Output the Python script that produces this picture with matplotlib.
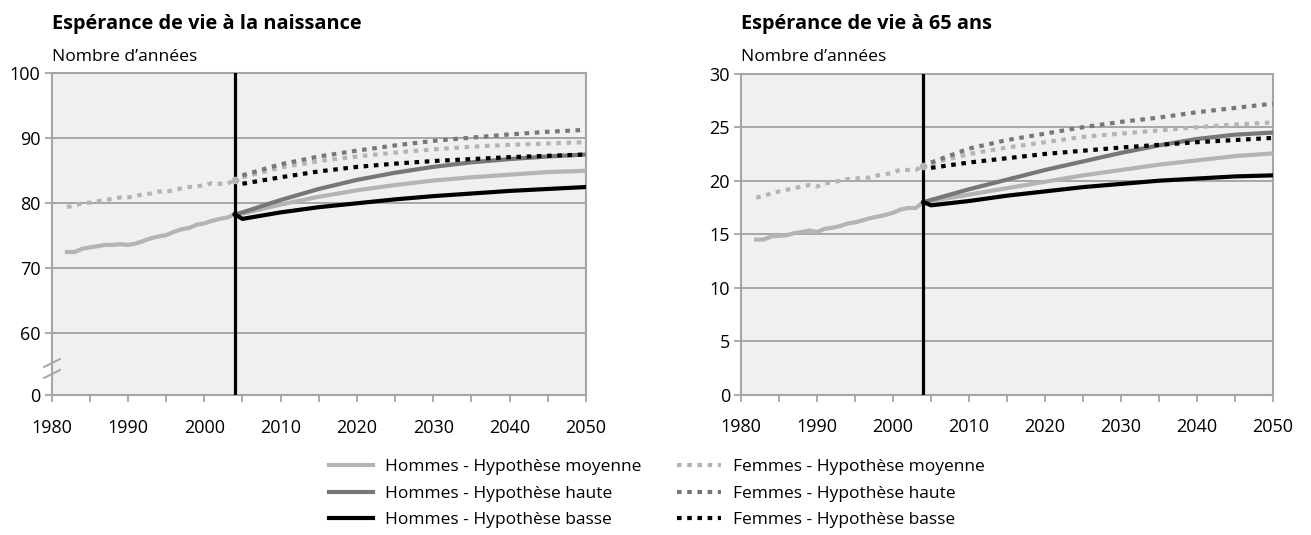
import matplotlib
matplotlib.use("Agg")
import matplotlib.pyplot as plt
from matplotlib.ticker import MultipleLocator
from matplotlib.lines import Line2D

plt.rcParams['font.family'] = ['Open Sans', 'DejaVu Sans']

# ---------------- data ----------------
hist_years = list(range(1982, 2005))
proj_years = [2004, 2005, 2010, 2015, 2020, 2025, 2030, 2035, 2040, 2045, 2050]

# Life expectancy at birth - observed
birth_men_obs = [72.5, 72.5, 73.0, 73.2, 73.4, 73.6, 73.6, 73.7, 73.6, 73.8, 74.2, 74.6,
                 74.9, 75.1, 75.6, 76.0, 76.2, 76.7, 76.9, 77.3, 77.6, 77.8, 78.3]
birth_women_obs = [79.4, 79.7, 80.0, 80.1, 80.3, 80.5, 80.7, 80.9, 80.9, 81.1, 81.4, 81.5,
                   81.8, 81.8, 82.0, 82.3, 82.5, 82.6, 82.8, 83.1, 83.0, 83.0, 83.6]
# Life expectancy at birth - projections
birth_men_moy = [78.3, 78.4, 79.8, 81.0, 82.0, 82.8, 83.5, 84.0, 84.4, 84.8, 85.0]
birth_men_haute = [78.3, 78.6, 80.5, 82.2, 83.6, 84.7, 85.6, 86.3, 86.8, 87.2, 87.5]
birth_men_basse = [78.3, 77.6, 78.6, 79.4, 80.0, 80.6, 81.1, 81.5, 81.9, 82.2, 82.5]
birth_women_moy = [83.6, 84.0, 85.5, 86.5, 87.2, 87.8, 88.3, 88.7, 89.0, 89.2, 89.4]
birth_women_haute = [83.6, 84.3, 86.0, 87.2, 88.1, 88.9, 89.6, 90.1, 90.6, 91.0, 91.3]
birth_women_basse = [83.6, 83.0, 84.0, 84.9, 85.6, 86.1, 86.5, 86.8, 87.1, 87.3, 87.5]

# Life expectancy at 65 - observed
age65_men_obs = [14.5, 14.5, 14.8, 14.85, 14.9, 15.1, 15.2, 15.35, 15.2, 15.5, 15.6, 15.75,
                 16.0, 16.1, 16.3, 16.5, 16.65, 16.8, 17.0, 17.3, 17.45, 17.45, 18.0]
age65_women_obs = [18.4, 18.6, 18.8, 19.0, 19.15, 19.3, 19.45, 19.6, 19.45, 19.75, 19.85, 20.0,
                   20.15, 20.2, 20.25, 20.3, 20.5, 20.6, 20.75, 21.05, 21.0, 21.0, 21.4]
# Life expectancy at 65 - projections
age65_men_moy = [18.0, 18.1, 18.7, 19.3, 19.9, 20.5, 21.0, 21.5, 21.9, 22.3, 22.55]
age65_men_haute = [18.0, 18.2, 19.2, 20.1, 21.0, 21.8, 22.6, 23.3, 23.9, 24.3, 24.5]
age65_men_basse = [18.0, 17.7, 18.1, 18.6, 19.0, 19.4, 19.7, 20.0, 20.2, 20.4, 20.5]
age65_women_moy = [21.4, 21.6, 22.5, 23.1, 23.6, 24.1, 24.4, 24.7, 25.0, 25.25, 25.45]
age65_women_haute = [21.4, 21.7, 23.0, 23.8, 24.4, 25.0, 25.5, 25.9, 26.4, 26.8, 27.2]
age65_women_basse = [21.4, 21.2, 21.7, 22.1, 22.5, 22.8, 23.1, 23.35, 23.6, 23.8, 24.0]

base_year = 2004
x_ticks = [1980, 1990, 2000, 2010, 2020, 2030, 2040, 2050]
birth_ytick_vals = [50.5, 60, 70, 80, 90, 100]
birth_ytick_labels = ["0", "60", "70", "80", "90", "100"]
age65_yticks = [0, 5, 10, 15, 20, 25, 30]

labels = ["Hommes - Hypothèse moyenne", "Hommes - Hypothèse haute", "Hommes - Hypothèse basse",
          "Femmes - Hypothèse moyenne", "Femmes - Hypothèse haute", "Femmes - Hypothèse basse"]
titles = ["Espérance de vie à la naissance", "Espérance de vie à 65 ans"]
ylabel = "Nombre d\u2019années"

# ---------------- style ----------------
C_LIGHT = "#b4b4b4"
C_MID = "#777777"
C_DARK = "#000000"
GRID = "#a6a6a6"
BG = "#eff0f0"
LW = 3.0
DOT = (1.1, 1.35)

fig = plt.figure(figsize=(13.11, 5.35), dpi=100)
ax1 = fig.add_axes([51.7 / 1311, 1 - 395 / 535, 534.1 / 1311, 321.7 / 535])
ax2 = fig.add_axes([741 / 1311, 1 - 394.7 / 535, 532 / 1311, 321 / 535])


def draw(ax, men_obs, women_obs, mm, mh, mb, wm, wh, wb):
    ax.set_facecolor(BG)
    ax.set_xlim(1980, 2050)
    for s in ax.spines.values():
        s.set_color(GRID)
        s.set_linewidth(1.5)
    ax.grid(axis='y', color=GRID, linewidth=1.4)
    ax.set_axisbelow(True)
    ax.xaxis.set_major_locator(MultipleLocator(10))
    ax.xaxis.set_minor_locator(MultipleLocator(5))
    ax.tick_params(axis='x', which='both', direction='out', length=5, width=1.3,
                   color=GRID, labelsize=13, pad=12)
    ax.tick_params(axis='y', which='both', direction='out', length=5, width=1.3,
                   color=GRID, labelsize=13, pad=3)
    # observed
    ax.plot(hist_years, men_obs, color=C_LIGHT, lw=LW, solid_joinstyle='round', zorder=3)
    ax.plot(hist_years, women_obs, color=C_LIGHT, lw=LW, dashes=DOT,
            dash_capstyle='butt', zorder=3)
    ax.plot([hist_years[-1]], [women_obs[-1]], 'o', color=C_LIGHT, ms=4.5, zorder=6)
    # projections
    ax.plot(proj_years, mm, color=C_LIGHT, lw=LW, zorder=3)
    ax.plot(proj_years, mh, color=C_MID, lw=LW, zorder=3)
    ax.plot(proj_years, mb, color=C_DARK, lw=LW, zorder=3)
    ax.plot(proj_years[1:], wm[1:], color=C_LIGHT, lw=LW, dashes=DOT, dash_capstyle='butt', zorder=4)
    ax.plot(proj_years[1:], wh[1:], color=C_MID, lw=LW, dashes=DOT, dash_capstyle='butt', zorder=4)
    ax.plot(proj_years[1:], wb[1:], color=C_DARK, lw=LW, dashes=DOT, dash_capstyle='butt', zorder=4)
    ax.axvline(base_year, color="black", lw=2.3, zorder=5)
    ax.set_xticks(x_ticks)


draw(ax1, birth_men_obs, birth_women_obs, birth_men_moy, birth_men_haute, birth_men_basse,
     birth_women_moy, birth_women_haute, birth_women_basse)
draw(ax2, age65_men_obs, age65_women_obs, age65_men_moy, age65_men_haute, age65_men_basse,
     age65_women_moy, age65_women_haute, age65_women_basse)

ax1.set_ylim(birth_ytick_vals[0], 100)
ax1.set_yticks(birth_ytick_vals)
ax1.set_yticklabels(birth_ytick_labels)
ax1.yaxis.get_gridlines()[0].set_visible(False)

ax2.set_ylim(0, 30)
ax2.set_yticks(age65_yticks)
ax2.yaxis.get_gridlines()[0].set_visible(False)

# axis break marks on the left chart
for yb in (367, 378):
    ax1.plot([(44 - 51.7) / 534.1, (60 - 51.7) / 534.1],
             [(395 - yb) / 321.7, (395 - yb + 8) / 321.7],
             transform=ax1.transAxes, color=GRID, lw=1.4, clip_on=False, zorder=10)

# titles
for ax, t in zip((ax1, ax2), titles):
    x0 = ax.get_position().x0
    fig.text(x0, 1 - 24 / 535, t, fontsize=14.4, fontweight='bold', va='center', ha='left')
    fig.text(x0, 1 - 57 / 535, ylabel, fontsize=12.6, va='center', ha='left')

# legend
handles = [
    Line2D([], [], color=C_LIGHT, lw=LW),
    Line2D([], [], color=C_MID, lw=LW),
    Line2D([], [], color=C_DARK, lw=LW),
    Line2D([], [], color=C_LIGHT, lw=LW, dashes=DOT, dash_capstyle='butt'),
    Line2D([], [], color=C_MID, lw=LW, dashes=DOT, dash_capstyle='butt'),
    Line2D([], [], color=C_DARK, lw=LW, dashes=DOT, dash_capstyle='butt'),
]
fig.legend(handles, labels, ncol=2, loc='upper left', bbox_to_anchor=(329 / 1311, 1 - 459 / 535),
           frameon=False, fontsize=12.5, handlelength=2.55, handletextpad=0.69,
           columnspacing=2.05, labelspacing=0.6, borderaxespad=0, borderpad=0)

fig.savefig("out.png", dpi=100)
